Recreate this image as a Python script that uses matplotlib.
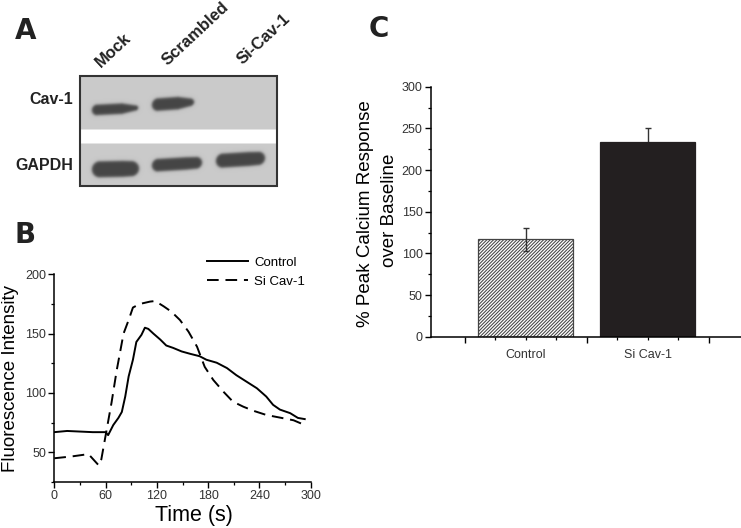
import numpy as np
import matplotlib.pyplot as plt
from matplotlib.patches import Rectangle
from matplotlib.ticker import MultipleLocator, FixedLocator, NullFormatter

plt.rcParams['font.family'] = ['Liberation Sans', 'DejaVu Sans']
plt.rcParams['hatch.linewidth'] = 0.75

# ---- data ----
# panel B: calcium traces (time in s, fluorescence)
control_t = [0, 15, 30, 45, 60, 63, 69, 75, 79, 83, 87, 92, 96, 102, 106, 110, 116, 124,
             131, 139, 149, 159, 170, 178, 190, 202, 213, 225, 237, 248, 256, 264, 276, 285, 293]
control_f = [67, 68, 67.5, 67, 67, 64.5, 73, 79, 84, 97, 114, 128, 143, 149, 155, 154, 150, 145,
             140, 138, 135, 133, 131, 128, 125.5, 121, 115, 109.5, 104, 97, 90, 86, 83, 79, 78]
sicav_t = [0, 20, 40, 52, 55, 58, 62, 67, 73, 81, 87, 92, 100, 112, 118, 128, 137, 147, 157,
           167, 176, 186, 198, 209, 221, 233, 248, 268, 280, 293]
sicav_f = [45, 46.5, 48.5, 39, 44, 56, 72, 92, 119, 150, 161.5, 172, 175, 177, 177.5, 173, 168.5,
           161.5, 151.7, 139, 122, 111, 101, 92.7, 88.5, 85, 81.5, 78.7, 77, 73]

# panel C: peak response
groups = ['Control', 'Si Cav-1']
peak = [117, 234]
peak_err = [14, 17]

# panel A: blot lanes / rows
lanes = ['Mock', 'Scrambled', 'Si-Cav-1']
rows = ['Cav-1', 'GAPDH']
# bands: x0, x1, y centre, height, slope, taper (pixel units of the blot image)
bands = [(92, 138, 109, 10.5, -0.05, 0.6),
         (152, 194, 103.5, 12.5, -0.07, 0.5),
         (92, 139, 169, 16, -0.02, 0.1),
         (152, 202, 164, 12.5, -0.06, 0.1),
         (216, 265, 159.5, 14, -0.06, 0.1)]

fig = plt.figure(figsize=(7.41, 5.28), dpi=100)

# ---- panel A (blot drawn in pixel space) ----
bax = fig.add_axes([0, 0, 1, 1])
bx0, bx1, by0, by1 = 80, 277, 76, 186
xx, yy = np.meshgrid(np.arange(bx0, bx1, 0.5) + 0.25, np.arange(by0, by1, 0.5) + 0.25)
img = np.full(xx.shape, 0.79)
img[(yy > 129.5) & (yy < 143.5)] = 1.0
for x0, x1, yc, h, slope, taper in bands:
    cy = yc + slope * (xx - (x0 + x1) / 2)
    half = h / 2 * (1 - taper * np.clip((xx - (x1 - 16)) / 16, 0, 1))
    dx = np.maximum(np.maximum(x0 + half - xx, xx - (x1 - half)), 0)
    d = np.sqrt(dx ** 2 + (yy - cy) ** 2) - half
    a = 1 / (1 + np.exp(d / 0.8))
    img = img * (1 - a) + 0.27 * a
bax.imshow(img, cmap='gray', vmin=0, vmax=1, extent=(bx0, bx1, by1, by0),
           interpolation='bilinear', aspect='auto')
bax.add_patch(Rectangle((bx0, by0), bx1 - bx0, by1 - by0, fill=False, lw=1.5, ec='#333'))
bax.set_xlim(0, 741)
bax.set_ylim(528, 0)
bax.axis('off')

for lab, (x, y) in zip(lanes, [(101, 68), (168, 66), (243, 65)]):
    bax.text(x, y, lab, rotation=43, rotation_mode='anchor', ha='left', va='baseline',
             fontsize=12, fontweight='bold', color='#222')
for lab, y in zip(rows, [100, 165]):
    bax.text(73, y, lab, ha='right', va='center', fontsize=11.5, fontweight='bold', color='#222')

for lab, (x, y) in zip('ABC', [(25.5, 31), (25.5, 235), (378.5, 29)]):
    bax.text(x, y, lab, ha='center', va='center', fontsize=20, fontweight='bold',
             family='DejaVu Sans', color='#222')

# ---- panel B ----
axb = fig.add_axes([54.3 / 741, 1 - 482 / 528, 256.4 / 741, 207.7 / 528])
axb.plot(control_t, control_f, color='k', lw=1.4, label='Control')
axb.plot(sicav_t, sicav_f, color='k', lw=1.4, ls=(0, (6, 3.5)), label='Si Cav-1')
axb.set_xlim(0, 300)
axb.set_ylim(25, 200)
axb.xaxis.set_major_locator(MultipleLocator(60))
axb.xaxis.set_minor_locator(MultipleLocator(30))
axb.yaxis.set_major_locator(FixedLocator([50, 100, 150, 200]))
axb.yaxis.set_minor_locator(MultipleLocator(25))
leg = axb.legend(loc='center left', bbox_to_anchor=(207, 272.2), bbox_transform=bax.transData,
                 frameon=False, fontsize=9.5, handlelength=3.1, handletextpad=0.5,
                 labelspacing=0.5, borderpad=0, borderaxespad=0)
bax.text(11, 378, 'Fluorescence Intensity', rotation=90, ha='center', va='center', fontsize=13.5)
bax.text(194, 516, 'Time (s)', ha='center', va='center', fontsize=15.5)

# ---- panel C ----
axc = fig.add_axes([431 / 741, 1 - 336.7 / 528, 309.5 / 741, 250 / 528])
xpos = np.arange(len(groups))
fills = ['white', '#231f20']
edges = ['#444', '#231f20']
hatches = ['//////////', None]
err_z = [3, 1]
for i in range(len(groups)):
    axc.bar(xpos[i], peak[i], width=0.774, color=fills[i], edgecolor=edges[i],
            hatch=hatches[i], lw=0.9, zorder=2)
    axc.errorbar(xpos[i], peak[i], yerr=peak_err[i], fmt='none', ecolor='#333', elinewidth=1,
                 capsize=2.5, capthick=1, zorder=err_z[i])
axc.set_xlim(-0.775, 1.76)
axc.set_ylim(0, 300)
axc.xaxis.set_major_locator(FixedLocator([-0.5, 0.5, 1.5]))
axc.xaxis.set_minor_locator(FixedLocator([-0.25, 0, 0.25, 0.75, 1, 1.25]))
axc.xaxis.set_major_formatter(NullFormatter())
axc.yaxis.set_major_locator(MultipleLocator(50))
axc.yaxis.set_minor_locator(MultipleLocator(25))
for i, g in enumerate(groups):
    axc.text(xpos[i], -0.073, g, transform=axc.get_xaxis_transform(), ha='center',
             va='center', fontsize=9, color='#333')
bax.text(365, 214, '% Peak Calcium Response', rotation=90, ha='center', va='center', fontsize=13.5)
bax.text(389, 210, 'over Baseline', rotation=90, ha='center', va='center', fontsize=13.5)

for ax in (axb, axc):
    ax.spines['top'].set_visible(False)
    ax.spines['right'].set_visible(False)
    for s in ('left', 'bottom'):
        ax.spines[s].set_linewidth(1.1)
    ax.tick_params(which='major', direction='out', length=4, width=1, labelsize=9,
                   labelcolor='#333', pad=2)
    ax.tick_params(which='minor', direction='out', length=2.2, width=0.9)

fig.savefig('out.png', dpi=100)
